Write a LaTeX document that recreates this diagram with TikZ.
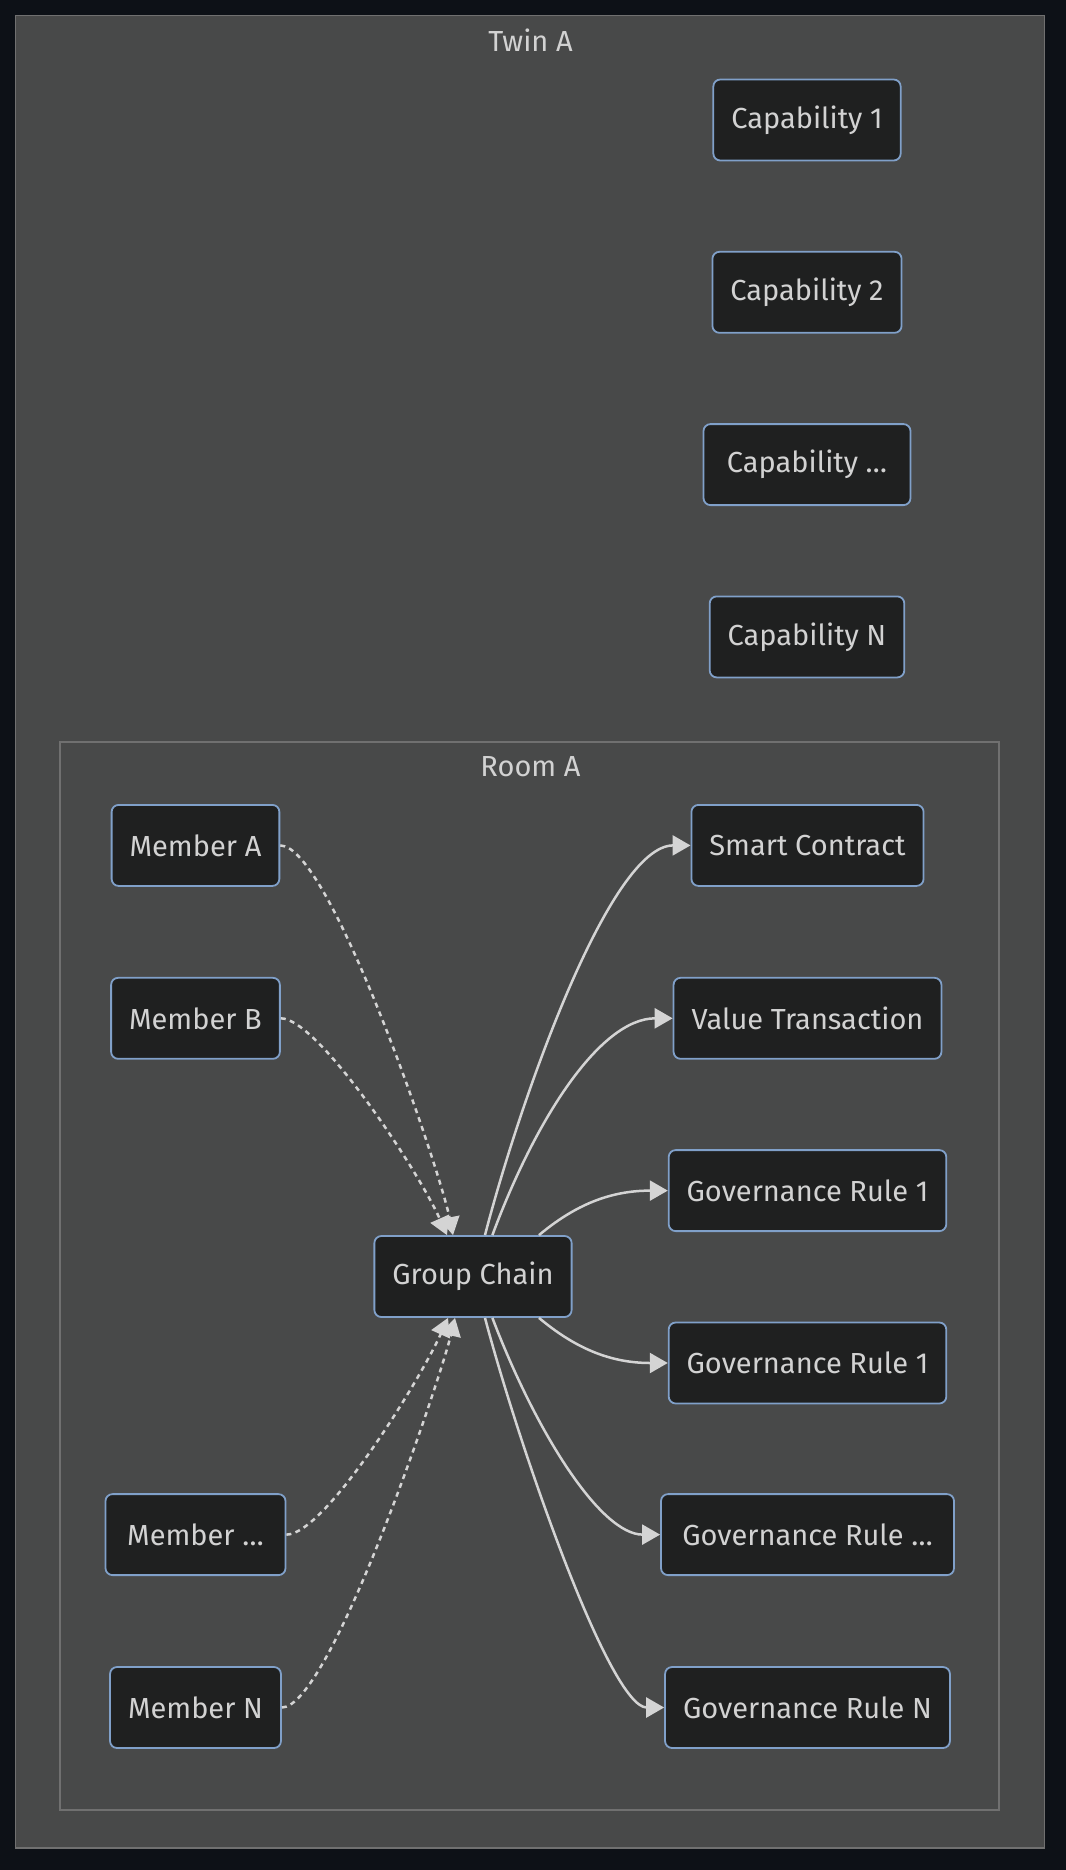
\documentclass[tikz,border=0pt]{standalone}
\usepackage{fontspec}
\setmainfont{Fira Sans}
\usetikzlibrary{arrows.meta}
\definecolor{pageback}{RGB}{13,17,23}
\definecolor{clusterback}{RGB}{72,73,73}
\definecolor{clusterline}{RGB}{112,112,112}
\definecolor{nodeback}{RGB}{31,32,32}
\definecolor{nodeline}{RGB}{128,160,201}
\definecolor{textgray}{RGB}{210,210,210}
\definecolor{edgegray}{RGB}{212,212,212}

\tikzset{
  box/.style={draw=nodeline,fill=nodeback,line width=0.9pt,rounded corners=3.5pt,
    text=textgray,minimum height=40.5pt,inner xsep=9pt,font=\fontsize{14.5}{17}\selectfont},
  cluster/.style={draw=clusterline,fill=clusterback,line width=0.9pt},
  title/.style={text=textgray,font=\fontsize{14.5}{17}\selectfont},
  link/.style={draw=edgegray,line width=1.25pt,-{Triangle[length=9pt,width=10pt]}},
  member/.style={link,dash pattern=on 2.5pt off 2.2pt}
}

\begin{document}
\begin{tikzpicture}[x=0.5pt,y=-0.5pt]
\fill[pageback] (0,0) rectangle (1066,1870);
\useasboundingbox (0,0) rectangle (1066,1870);

% clusters
\draw[cluster] (15.5,15.5) rectangle (1044.5,1848);
\node[title] (twin) at (530.5,40.5) {Twin A};
\draw[cluster] (59.6,741.7) rectangle (999.2,1810);
\node[title] (room) at (530.5,766.7) {Room A};

% capabilities
\node[box] (cap1) at (807,120) {Capability 1};
\node[box] (cap2) at (807,292.3) {Capability 2};
\node[box,minimum width=103.5pt] (capx) at (807,464.6) {Capability \ldots};
\node[box] (capn) at (807,636.9) {Capability N};

% members
\node[box] (ma) at (195.5,845.4) {Member A};
\node[box] (mb) at (195.5,1018.3) {Member B};
\node[box,minimum width=90pt] (mx) at (195.5,1534.6) {Member \ldots};
\node[box] (mn) at (195.5,1707.5) {Member N};

\node[box] (gc) at (473,1276.5) {Group Chain};

% right side
\node[box] (sc) at (807.5,845.4) {Smart Contract};
\node[box] (vt) at (807.5,1018.3) {Value Transaction};
\node[box] (gra) at (807.5,1190.6) {Governance Rule 1};
\node[box] (grb) at (807.5,1363) {Governance Rule 1};
\node[box,minimum width=146.5pt] (grx) at (807.5,1534.6) {Governance Rule \ldots};
\node[box] (grn) at (807.5,1707.5) {Governance Rule N};

% dotted links into the chain
\draw[member] (ma.east) .. controls (330,845.4) and (440,1170) .. ([xshift=-10pt]gc.north);
\draw[member] (mb.east) .. controls (318,1018.3) and (418,1170) .. ([xshift=-13pt]gc.north);
\draw[member] (mx.east) .. controls (325,1534.6) and (420,1380) .. ([xshift=-12.5pt]gc.south);
\draw[member] (mn.east) .. controls (330,1707.5) and (440,1380) .. ([xshift=-9pt]gc.south);

% links out of the chain
\draw[link] ([xshift=6pt]gc.north) .. controls (520,1100) and (610,845.4) .. (sc.west);
\draw[link] ([xshift=9.7pt]gc.north) .. controls (535,1120) and (600,1018.3) .. (vt.west);
\draw[link] ([xshift=33pt]gc.north) .. controls (575,1205) and (610,1190.6) .. (gra.west);
\draw[link] ([xshift=33pt]gc.south) .. controls (575,1348) and (610,1363) .. (grb.west);
\draw[link] ([xshift=9.7pt]gc.south) .. controls (535,1430) and (600,1534.6) .. (grx.west);
\draw[link] ([xshift=6pt]gc.south) .. controls (520,1450) and (610,1707.5) .. (grn.west);
\end{tikzpicture}
\end{document}
